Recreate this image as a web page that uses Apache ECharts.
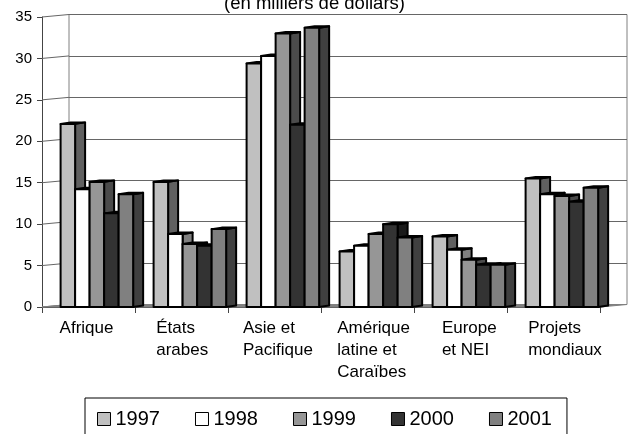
<!DOCTYPE html>
<html>
<head>
<meta charset="utf-8">
<script src="https://cdn.jsdelivr.net/npm/echarts@6/dist/echarts.min.js"></script>
<style>
  html, body { margin: 0; padding: 0; background: #fff; }
  #chart { width: 629px; height: 434px; }
</style>
</head>
<body>
<div id="chart"></div>
<script>
// Regions (categories) and yearly values, in thousands of dollars
const categories = ['Afrique', 'États\narabes', 'Asie et\nPacifique', 'Amérique\nlatine et\nCaraïbes', 'Europe\net NEI', 'Projets\nmondiaux'];
const years = ['1997', '1998', '1999', '2000', '2001'];
const v1997 = [22.1, 15.1, 29.4, 6.7, 8.5, 15.5];
const v1998 = [14.2, 8.8, 30.3, 7.4, 6.9, 13.6];
const v1999 = [15.1, 7.6, 33.0, 8.8, 5.7, 13.4];
const v2000 = [11.3, 7.4, 22.0, 10.0, 5.1, 12.7];
const v2001 = [13.6, 9.4, 33.7, 8.4, 5.1, 14.4];
const yTicks = [0, 5, 10, 15, 20, 25, 30, 35];

const seriesValues = [v1997, v1998, v1999, v2000, v2001];
const faceColors = ['#c0c0c0', '#ffffff', '#969696', '#333333', '#808080'];
const sideColors = ['#606060', '#808080', '#4b4b4b', '#1a1a1a', '#404040'];

const FONT = '"Liberation Sans", Arial, sans-serif';
// Pseudo-3D depth of the wall box and of each column
const WALL_DX = 27, WALL_DY = -2.5;
const BAR_DX = 10, BAR_DY = -1.5;

function barRenderer(si) {
  return function (params, api) {
    const cat = api.value(0);
    const val = api.value(1);
    const band = api.size([1, 0])[0];
    const basePt = api.coord([cat, 0]);
    const topY = api.coord([cat, val])[1];
    const baseY = basePt[1];
    const w = band * 0.156;
    const x0 = basePt[0] - band / 2 + band * 0.2 + si * w;
    const x1 = x0 + w;
    const line = { stroke: '#000', lineWidth: 2, lineJoin: 'round' };
    return {
      type: 'group',
      children: [
        { type: 'polygon',
          shape: { points: [[x1, topY], [x1 + BAR_DX, topY + BAR_DY], [x1 + BAR_DX, baseY + BAR_DY], [x1, baseY]] },
          style: Object.assign({ fill: sideColors[si] }, line) },
        { type: 'polygon',
          shape: { points: [[x0, topY], [x0 + BAR_DX, topY + BAR_DY], [x1 + BAR_DX, topY + BAR_DY], [x1, topY]] },
          style: Object.assign({ fill: faceColors[si] }, line) },
        { type: 'rect',
          shape: { x: x0, y: topY, width: w, height: baseY - topY },
          style: Object.assign({ fill: faceColors[si] }, line) }
      ]
    };
  };
}

// Side-wall connectors from the front axis ticks to the back wall, plus the floor
function wallRenderer(params, api) {
  const v = api.value(1);
  const y = api.coord([0, v])[1];
  const x = params.coordSys.x;
  const children = [
    { type: 'line', shape: { x1: x, y1: y, x2: x + WALL_DX, y2: y + WALL_DY },
      style: { stroke: '#666', lineWidth: 1 } }
  ];
  if (v === 0) {
    const xr = x + params.coordSys.width;
    children.push({
      type: 'polygon',
      shape: { points: [[x, y], [xr, y], [xr + WALL_DX, y + WALL_DY], [x + WALL_DX, y + WALL_DY]] },
      style: { fill: '#808080', stroke: '#808080', lineWidth: 1 }
    });
  }
  return { type: 'group', children: children };
}

// Category labels drift slightly right across the axis (perspective of the box)
const categoryItems = categories.map((c, i) => {
  const s = -2 + 2.7 * i;
  return { value: c, textStyle: { padding: s >= 0 ? [0, 0, 0, 2 * s] : [0, -2 * s, 0, 0] } };
});

const chart = echarts.init(document.getElementById('chart'), null, { renderer: 'canvas' });

const series = [{
  type: 'custom',
  name: 'walls',
  xAxisIndex: 0, yAxisIndex: 0,
  silent: true,
  z: 1,
  data: yTicks.map(v => [0, v]),
  renderItem: wallRenderer
}];
years.forEach((y, i) => {
  series.push({
    type: 'custom',
    name: y,
    xAxisIndex: 0, yAxisIndex: 0,
    z: 3,
    itemStyle: { color: faceColors[i], borderColor: '#000', borderWidth: 1 },
    data: seriesValues[i].map((v, k) => [k, v]),
    renderItem: barRenderer(i)
  });
});

chart.setOption({
  animation: false,
  backgroundColor: '#fff',
  title: {
    text: '(en milliers de dollars)',
    left: 'center',
    top: -6,
    padding: 0,
    textStyle: { fontFamily: FONT, fontSize: 18.5, fontWeight: 'normal', color: '#000' }
  },
  legend: {
    left: 85,
    top: 398,
    padding: [11, 15, 12, 12],
    borderColor: '#000',
    borderWidth: 1,
    itemWidth: 13,
    itemHeight: 13,
    itemGap: 35,
    icon: 'rect',
    textStyle: { fontFamily: FONT, fontSize: 20, color: '#000' },
    data: years.map((y, i) => ({
      name: y,
      itemStyle: { color: faceColors[i], borderColor: '#000', borderWidth: 1 }
    }))
  },
  grid: [
    { left: 42, top: 17, right: 29, bottom: 127 },
    { left: 42 + WALL_DX, top: 17 + WALL_DY, right: 29 - WALL_DX, bottom: 127 - WALL_DY,
      show: true, borderColor: '#808080', borderWidth: 1, backgroundColor: 'transparent' }
  ],
  xAxis: [
    {
      type: 'category', gridIndex: 0, data: categoryItems,
      axisLine: { lineStyle: { color: '#444', width: 1 } },
      axisTick: { show: true, length: 6, lineStyle: { color: '#444' } },
      axisLabel: {
        margin: 10,
        formatter: v => v.split('\n').map(s => '{l|' + s + '}').join('\n'),
        rich: { l: { align: 'left', fontFamily: FONT, fontSize: 17, lineHeight: 22, color: '#000' } }
      },
      splitLine: { show: false }
    },
    {
      type: 'category', gridIndex: 1, data: categories,
      show: false
    }
  ],
  yAxis: [
    {
      type: 'value', gridIndex: 0, min: 0, max: 35, interval: 5,
      axisLine: { show: true, lineStyle: { color: '#444', width: 1 } },
      axisTick: { show: true, length: 5, lineStyle: { color: '#444' } },
      axisLabel: { margin: 10, fontFamily: FONT, fontSize: 15, color: '#000' },
      splitLine: { show: false }
    },
    {
      type: 'value', gridIndex: 1, min: 0, max: 35, interval: 5,
      axisLine: { show: false }, axisTick: { show: false }, axisLabel: { show: false },
      splitLine: { show: true, lineStyle: { color: '#666', width: 1 } }
    }
  ],
  series: series
});
</script>
</body>
</html>
